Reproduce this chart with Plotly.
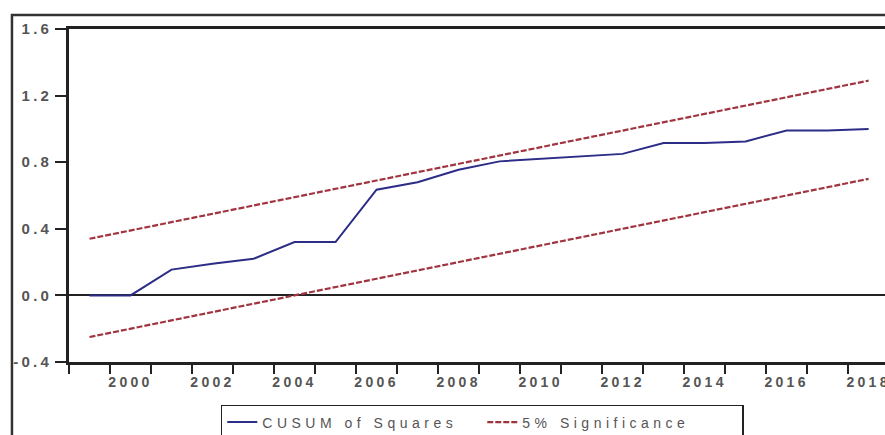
import plotly.graph_objects as go

years = [1999, 2000, 2001, 2002, 2003, 2004, 2005, 2006, 2007, 2008,
         2009, 2010, 2011, 2012, 2013, 2014, 2015, 2016, 2017, 2018]
cusum_sq = [0.00, 0.00, 0.155, 0.19, 0.22, 0.32, 0.32, 0.635, 0.68, 0.755,
            0.805, 0.82, 0.835, 0.85, 0.915, 0.915, 0.925, 0.99, 0.99, 1.00]
upper_5 = [0.34, 0.39, 0.44, 0.49, 0.54, 0.59, 0.64, 0.69, 0.74, 0.79,
           0.84, 0.89, 0.94, 0.99, 1.04, 1.09, 1.14, 1.19, 1.24, 1.29]
lower_5 = [-0.25, -0.20, -0.15, -0.10, -0.05, 0.00, 0.05, 0.10, 0.15, 0.20,
           0.25, 0.30, 0.35, 0.40, 0.45, 0.50, 0.55, 0.60, 0.65, 0.70]
x_tick_years = [2000, 2002, 2004, 2006, 2008, 2010, 2012, 2014, 2016, 2018]
y_ticks = [-0.4, 0.0, 0.4, 0.8, 1.2, 1.6]

font_family = "Liberation Sans, Arial, sans-serif"
text_col = "#555555"
sig_col = "#a0343f"

fig = go.Figure()
fig.add_trace(go.Scatter(x=years, y=cusum_sq, mode="lines", name="CUSUM of Squares",
                         line=dict(color="#2b2d86", width=2)))
fig.add_trace(go.Scatter(x=years, y=upper_5, mode="lines", name="5% Significance",
                         line=dict(color=sig_col, width=2.2, dash="6px,2px")))
fig.add_trace(go.Scatter(x=years, y=lower_5, mode="lines", name="5% Significance",
                         showlegend=False,
                         line=dict(color=sig_col, width=2.2, dash="6px,2px")))

fig.update_layout(
    width=885, height=435,
    template="none",
    paper_bgcolor="white", plot_bgcolor="white",
    margin=dict(l=69, r=0, t=29, b=73, autoexpand=False),
    font=dict(family=font_family, size=14, color=text_col),
    showlegend=True,
    legend=dict(orientation="h", x=0.186, xanchor="left", y=-0.129, yanchor="top",
                bordercolor="#222222", borderwidth=1.5, bgcolor="white",
                font=dict(family=font_family, size=14, color=text_col),
                entrywidth=215, entrywidthmode="pixels", tracegroupgap=0,
                itemwidth=30),
)

fig.update_xaxes(
    range=[1998.5, 2018.4], autorange=False,
    tickmode="array", tickvals=x_tick_years, ticktext=[str(v) for v in x_tick_years],
    ticks="", ticklabelstandoff=5,
    tickfont=dict(family=font_family, size=14, color=text_col, weight="bold"),
    showline=True, linecolor="#222222", linewidth=2.5, mirror=True,
    showgrid=False, zeroline=False, automargin=False,
    minor=dict(tick0=1999.5, dtick=1, ticks="outside", ticklen=9, tickwidth=2,
               tickcolor="#222222", showgrid=False),
)
fig.update_yaxes(
    range=[-0.4, 1.6], autorange=False,
    tickmode="array", tickvals=y_ticks, ticktext=["%.1f" % v for v in y_ticks],
    ticks="outside", ticklen=11, tickwidth=2, tickcolor="#222222",
    tickfont=dict(family=font_family, size=15, color=text_col, weight="bold"),
    showline=True, linecolor="#222222", linewidth=2.5, mirror=False,
    showgrid=False, zeroline=True, zerolinecolor="#222222", zerolinewidth=2,
    automargin=False,
)

# outer frame of the graphic
fig.add_shape(type="rect", xref="paper", yref="paper",
              x0=-0.0699, x1=1.01, y0=-0.25, y1=1.042,
              line=dict(color="#333333", width=2.5), fillcolor="rgba(0,0,0,0)",
              layer="above")

post = ("document.body.style.margin='0';document.body.style.padding='0';"
        "var s=document.createElement('style');"
        "s.textContent='.xtick text,.ytick text{letter-spacing:3.3px}.legendtext{letter-spacing:4.5px}';"
        "document.head.appendChild(s);")
fig.write_html("out.html", post_script=post, config={"displayModeBar": False})
